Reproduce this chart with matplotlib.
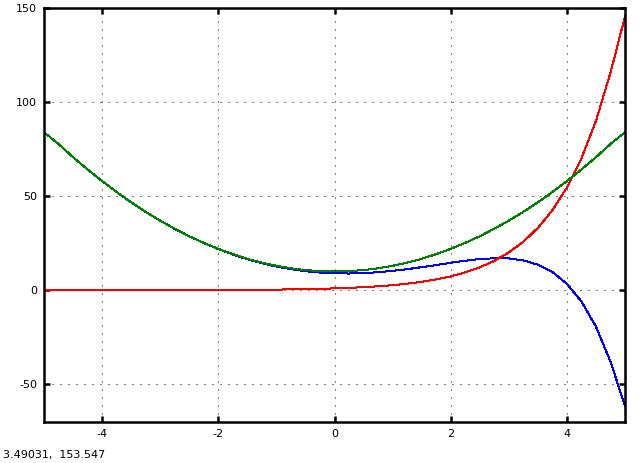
import matplotlib
matplotlib.use("Agg")
import matplotlib.pyplot as plt

plt.rcParams['axes.unicode_minus'] = False

# ---------------------------
# Data
# ---------------------------

x = [-5.0, -4.75, -4.5, -4.25, -4.0, -3.75, -3.5, -3.25, -3.0, -2.75, -2.5,
     -2.25, -2.0, -1.75, -1.5, -1.25, -1.0, -0.75, -0.5, -0.25, 0.0,
     0.25, 0.5, 0.75, 1.0, 1.25, 1.5, 1.75, 2.0, 2.25, 2.5,
     2.75, 3.0, 3.25, 3.5, 3.75, 4.0, 4.25, 4.5, 4.75, 5.0]

red = [0.01, 0.01, 0.01, 0.01, 0.02, 0.02, 0.03, 0.04, 0.05, 0.06, 0.08,
       0.11, 0.14, 0.17, 0.22, 0.29, 0.37, 0.47, 0.61, 0.78, 1.0,
       1.28, 1.65, 2.12, 2.72, 3.49, 4.48, 5.75, 7.39, 9.49, 12.2,
       15.6, 20.1, 25.8, 33.1, 42.5, 54.6, 70.1, 90.0, 115.6, 145.5]

green = [84.0, 77.7, 70.7, 64.2, 58.0, 52.2, 46.7, 41.7, 37.0, 32.7, 28.7,
         25.2, 22.0, 19.2, 16.7, 14.7, 13.0, 11.7, 10.7, 10.2, 10.0,
         10.2, 10.7, 11.7, 13.0, 14.7, 16.7, 19.2, 22.0, 25.2, 28.7,
         32.7, 37.0, 41.7, 46.7, 52.2, 58.0, 64.2, 70.7, 77.7, 84.0]

blue = [84.0, 77.7, 70.7, 64.2, 58.0, 52.2, 46.7, 41.6, 37.0, 32.6, 28.7,
        25.1, 21.9, 19.0, 16.5, 14.4, 12.6, 11.2, 10.1, 9.4, 9.0,
        8.9, 9.1, 9.6, 10.3, 11.2, 12.3, 13.4, 14.6, 15.7, 16.6,
        17.0, 16.9, 15.9, 13.6, 9.7, 3.4, -5.9, -19.3, -37.9, -61.5]

xticks = [-4, -2, 0, 2, 4]
yticks = [-50, 0, 50, 100, 150]
status = "3.49031,  153.547"

# ---------------------------
# Plot
# ---------------------------

fig = plt.figure(figsize=(6.4, 4.63), dpi=100)
ax = fig.add_axes([44 / 640, 1 - 422 / 463, 581 / 640, 414 / 463])

ax.plot(x, blue, color="#0000ff", lw=0.72, antialiased=False)
ax.plot(x, red, color="#ff0000", lw=0.72, antialiased=False)
ax.plot(x, green, color="#008000", lw=0.72, antialiased=False)

ax.set_xlim(-5, 5)
ax.set_ylim(-70, 150)
ax.set_xticks(xticks)
ax.set_yticks(yticks)
ax.grid(True, color="black", linestyle=(0, (1, 7)), linewidth=0.72)

for s in ax.spines.values():
    s.set_linewidth(1.8)
ax.tick_params(direction="in", length=4, width=1.8, top=True, right=True,
               labelsize=8, pad=5)

fig.text(3 / 640, 1 - 458 / 463, status, fontsize=8, ha="left", va="baseline")

plt.savefig("out.png", dpi=100)
